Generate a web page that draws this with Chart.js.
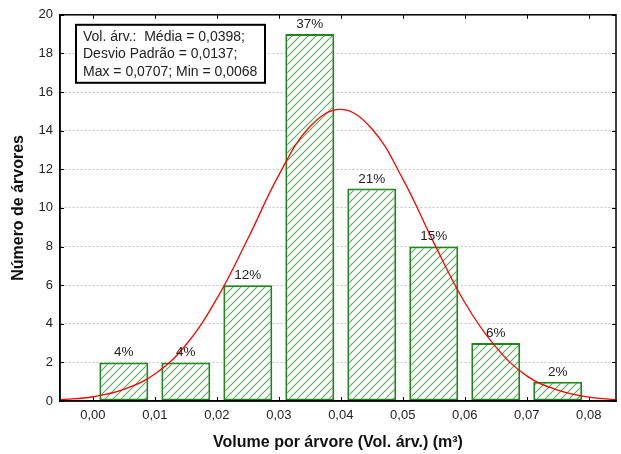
<!DOCTYPE html>
<html>
<head>
<meta charset="utf-8">
<script src="https://cdn.jsdelivr.net/npm/chart.js@4.4.1/dist/chart.umd.min.js"></script>
<style>
  html, body { margin: 0; padding: 0; background: #fff; }
  #wrap { width: 621px; height: 454px; }
</style>
</head>
<body>
<div id="wrap"><canvas id="histChart"></canvas></div>
<script>
// histogram bins (bin centre) and tree counts
const binCenters = [0.005, 0.015, 0.025, 0.035, 0.045, 0.055, 0.065, 0.075];
const treeCounts = [2, 2, 6, 19, 11, 8, 3, 1];
const pctLabels = ['4%', '4%', '12%', '37%', '21%', '15%', '6%', '2%'];

// fitted normal curve
const curveX = [-0.0053, 0.000, 0.005, 0.010, 0.015, 0.020, 0.025, 0.030, 0.035, 0.040,
                0.045, 0.050, 0.055, 0.060, 0.065, 0.070, 0.075, 0.080, 0.0844];
const curveY = [0.07, 0.22, 0.6, 1.4, 2.9, 5.3, 8.4, 11.7, 14.2, 15.1,
                14.1, 11.5, 8.2, 5.1, 2.8, 1.3, 0.56, 0.2, 0.07];

const xTicks = [0.00, 0.01, 0.02, 0.03, 0.04, 0.05, 0.06, 0.07, 0.08];
const yTicks = [0, 2, 4, 6, 8, 10, 12, 14, 16, 18, 20];

const statsLines = [
    'Vol. árv.:  Média = 0,0398;',
    'Desvio Padrão = 0,0137;',
    'Max = 0,0707; Min = 0,0068'
];

const FONT = '"Liberation Sans", Arial, sans-serif';

function makeHatch() {
    const size = 8;
    const c = document.createElement('canvas');
    c.width = size; c.height = size;
    const g = c.getContext('2d');
    g.fillStyle = '#fff';
    g.fillRect(0, 0, size, size);
    g.strokeStyle = '#56aa56';
    g.lineWidth = 1.1;
    g.beginPath();
    g.moveTo(-1, size + 1); g.lineTo(size + 1, -1);
    g.moveTo(-1, 1); g.lineTo(1, -1);
    g.moveTo(size - 1, size + 1); g.lineTo(size + 1, size - 1);
    g.stroke();
    return g.createPattern(c, 'repeat');
}

// frame around the plot, ticks pointing inwards on all four sides
const framePlugin = {
    id: 'frame',
    afterDatasetsDraw(chart) {
        const {ctx, chartArea: a, scales} = chart;
        const t = 4;
        ctx.save();
        ctx.strokeStyle = '#000';
        ctx.lineWidth = 1;
        ctx.beginPath();
        yTicks.forEach(v => {
            const y = Math.round(scales.y.getPixelForValue(v)) + 0.5;
            ctx.moveTo(a.right, y); ctx.lineTo(a.right - t, y);
            ctx.moveTo(a.left, y); ctx.lineTo(a.left + t, y);
        });
        xTicks.forEach(v => {
            const x = Math.round(scales.x.getPixelForValue(v)) + 0.5;
            ctx.moveTo(x, a.top); ctx.lineTo(x, a.top + t);
            ctx.moveTo(x, a.bottom); ctx.lineTo(x, a.bottom - t);
        });
        ctx.stroke();
        ctx.lineWidth = 1.5;
        ctx.strokeRect(a.left, a.top, a.right - a.left, a.bottom - a.top);
        ctx.restore();
    }
};

// percentage above each bar + the stats box
const labelPlugin = {
    id: 'labels',
    afterDraw(chart) {
        const {ctx, chartArea: a} = chart;
        const meta = chart.getDatasetMeta(1);
        ctx.save();
        ctx.fillStyle = '#222';
        ctx.font = '13.5px ' + FONT;
        ctx.textAlign = 'center';
        ctx.textBaseline = 'bottom';
        meta.data.forEach((bar, i) => {
            ctx.fillText(pctLabels[i], bar.x, bar.y - 3);
        });

        const bx = a.left + 16, by = a.top + 10, bw = 189, bh = 58;
        ctx.fillStyle = '#fff';
        ctx.fillRect(bx, by, bw, bh);
        ctx.strokeStyle = '#000';
        ctx.lineWidth = 2;
        ctx.strokeRect(bx, by, bw, bh);
        ctx.fillStyle = '#222';
        ctx.font = '14px ' + FONT;
        ctx.textAlign = 'left';
        ctx.textBaseline = 'middle';
        statsLines.forEach((t, i) => {
            ctx.fillText(t, bx + 7, by + 12 + i * 17.5);
        });
        ctx.restore();
    }
};

const ctx = document.getElementById('histChart').getContext('2d');

new Chart(ctx, {
    data: {
        datasets: [
            {
                type: 'line',
                label: 'Normal',
                data: curveX.map((x, i) => ({x: x, y: curveY[i]})),
                borderColor: '#ff0000',
                borderWidth: 1.3,
                pointRadius: 0,
                tension: 0.4,
                fill: false,
                order: 0
            },
            {
                type: 'bar',
                label: 'Árvores',
                data: binCenters.map((x, i) => ({x: x, y: treeCounts[i]})),
                backgroundColor: makeHatch(),
                borderColor: '#1f861f',
                borderWidth: 2,
                borderSkipped: false,
                categoryPercentage: 1,
                barPercentage: 0.79,
                order: 1
            }
        ]
    },
    options: {
        responsive: true,
        maintainAspectRatio: false,
        animation: false,
        layout: { padding: { top: 14, right: 5, left: 0, bottom: 0 } },
        plugins: {
            legend: { display: false },
            tooltip: { enabled: false }
        },
        scales: {
            x: {
                type: 'linear',
                min: -0.0053,
                max: 0.0844,
                offset: false,
                afterBuildTicks: scale => { scale.ticks = xTicks.map(v => ({value: v})); },
                afterFit: scale => { scale.height = 53; },
                grid: { offset: false, drawOnChartArea: false, drawTicks: false },
                border: { display: true, color: '#000', width: 1.5 },
                ticks: {
                    color: '#222',
                    padding: 7,
                    maxRotation: 0,
                    font: { family: FONT, size: 13 },
                    callback: v => v.toFixed(2).replace('.', ',')
                },
                title: {
                    display: true,
                    text: 'Volume por árvore (Vol. árv.) (m³)',
                    color: '#111',
                    padding: { top: 0, bottom: 1.5 },
                    font: { family: FONT, size: 16, weight: 'bold' }
                }
            },
            y: {
                min: 0,
                max: 20,
                afterBuildTicks: scale => { scale.ticks = yTicks.map(v => ({value: v})); },
                afterFit: scale => { scale.width = 60; },
                grid: { color: '#c4c4c4', lineWidth: 1, drawTicks: false },
                border: { display: true, color: '#000', width: 1.5, dash: [2, 2] },
                ticks: {
                    color: '#222',
                    padding: 7,
                    font: { family: FONT, size: 13 }
                },
                title: {
                    display: true,
                    text: 'Número de árvores',
                    color: '#111',
                    padding: { top: 8.5, bottom: 0 },
                    font: { family: FONT, size: 16, weight: 'bold' }
                }
            }
        }
    },
    plugins: [framePlugin, labelPlugin]
});
</script>
</body>
</html>
